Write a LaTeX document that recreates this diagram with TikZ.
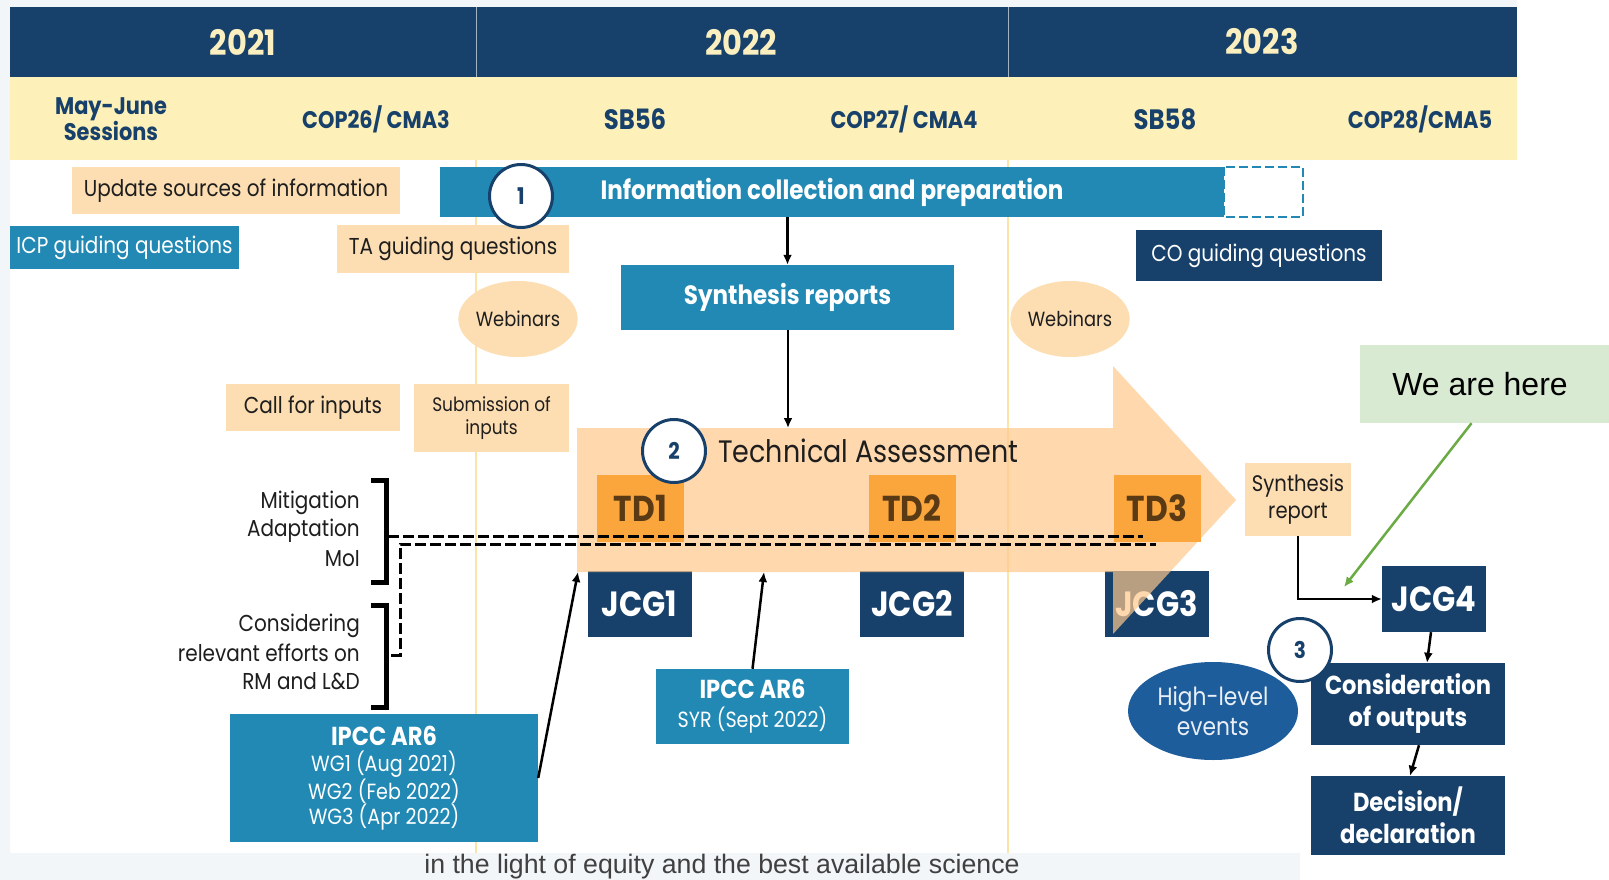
\documentclass[tikz,border=0pt]{standalone}
\usepackage{fontspec}
\setmainfont{Poppins}[FakeStretch=0.87]
\newfontfamily\arialfont{Liberation Sans}
\usetikzlibrary{arrows.meta,shapes.geometric}
\definecolor{navy}{HTML}{17416B}
\definecolor{ipcc}{HTML}{2189B3}
\definecolor{peach}{HTML}{FDDDB2}
\definecolor{band}{HTML}{FDF0B9}
\definecolor{cream}{HTML}{FBEFC0}
\definecolor{tdorange}{HTML}{FBA63C}
\definecolor{tdink}{HTML}{5A3A14}
\definecolor{sepline}{HTML}{FCE4A6}
\definecolor{hlblue}{HTML}{1E5D9B}
\definecolor{greenbg}{HTML}{D9EAD3}
\definecolor{greenarr}{HTML}{6AAB44}
\definecolor{tafill}{HTML}{FFC88C}
\definecolor{ink}{HTML}{1E1E1E}
\definecolor{tint}{HTML}{F3F6F9}

\begin{document}
\begin{tikzpicture}[x=1pt,y=-1pt,
        box/.style={rectangle, inner sep=0pt, align=center},
        peachbox/.style={box, fill=peach, text=ink},
        bluebox/.style={box, fill=ipcc, text=white},
        navybox/.style={box, fill=navy, text=white},
        num/.style={circle, draw=navy, line width=3pt, fill=white, text=navy,
                        inner sep=0pt, minimum size=63pt,
                        font=\bfseries\fontsize{23}{23}\selectfont},
        blob/.style={ellipse, inner sep=0pt, align=center},
        arr/.style={-{Latex[length=10pt,width=9pt]}, line width=2.5pt},
        dashline/.style={line width=3pt, dash pattern=on 11pt off 4pt},
        brk/.style={line width=5pt}]
    \useasboundingbox (0,0) rectangle (1609,880);
    \fill[white] (0,0) rectangle (1609,880);
    \fill[tint] (0,0) rectangle (10,880) (0,0) rectangle (1517,7)
        (0,853) rectangle (1300,880);

    \fill[navy] (10,7) rectangle (1517,77);
    \fill[band] (10,77) rectangle (1517,160);
    \draw[white!60!navy, line width=1pt] (476,7) -- (476,77) (1008,7) -- (1008,77);
    \draw[sepline, line width=2pt] (476,160) -- (476,853) (1008,160) -- (1008,853);

    \foreach \x/\yr in {243/2021,741/2022,1262/2023}
        \node[text=cream, font=\bfseries\fontsize{35}{35}\selectfont] (y\yr) at (\x,42) {\yr};
    \foreach \x/\n/\t in {111/may/{May-June\\Sessions},376/cop26/{COP26/ CMA3},
            904/cop27/{COP27/ CMA4},1420/cop28/{COP28/CMA5}}
        \node[align=center, text=navy, font=\bfseries\fontsize{24}{25}\selectfont]
            (\n) at (\x,119) {\t};
    \foreach \x/\n in {635/56,1165/58}
        \node[text=navy, font=\bfseries\fontsize{28}{28}\selectfont] (sb\n) at (\x,119) {SB\n};

    \node[peachbox, minimum width=328pt, minimum height=47pt,
            font=\fontsize{23}{23}\selectfont] (upd) at (236,190.5) {Update sources of information};
    \node[bluebox, minimum width=784pt, minimum height=50pt,
            font=\bfseries\fontsize{26.5}{26.5}\selectfont] (info) at (832,192) {Information collection and preparation};
    \draw[ipcc, line width=2.5pt, dash pattern=on 9pt off 4pt]
        (info.north east) rectangle ++(79,50);
    \node[bluebox, minimum width=229pt, minimum height=43pt,
            font=\fontsize{23}{23}\selectfont] (icp) at (124.5,247.5) {ICP guiding questions};
    \node[peachbox, minimum width=232pt, minimum height=48pt,
            font=\fontsize{23}{23}\selectfont] (ta) at (453,249) {TA guiding questions};
    \node[navybox, minimum width=246pt, minimum height=51pt,
            font=\fontsize{23}{23}\selectfont] (co) at (1259,255.5) {CO guiding questions};
    \node[bluebox, minimum width=333pt, minimum height=65pt,
            font=\bfseries\fontsize{26.5}{26.5}\selectfont] (syn) at (787.5,297.5) {Synthesis reports};
    \node[num] (c1) at (521,196) {1};
    \foreach \x/\n in {518/web1,1070/web2}
        \node[blob, fill=peach, text=ink, minimum width=116pt, minimum height=76pt,
                font=\fontsize{20.5}{20.5}\selectfont] (\n) at (\x,319) {Webinars};
    \node[peachbox, minimum width=174pt, minimum height=47pt,
            font=\fontsize{23}{23}\selectfont] (call) at (313,407.5) {Call for inputs};
    \node[peachbox, minimum width=155pt, minimum height=68pt,
            font=\fontsize{19.5}{23}\selectfont] (sub) at (491.5,418) {Submission of\\inputs};

    \foreach \x/\n in {639.5/1,912/2,1156.5/3}
        \node[navybox, minimum width=104pt, minimum height=66pt,
                font=\bfseries\fontsize{35}{35}\selectfont] (jcg\n) at (\x,604) {JCG\n};
    \fill[tafill, fill opacity=0.7] (577,428) -- (1113,428) -- (1113,366) -- (1236,500)
        -- (1113,634) -- (1113,572) -- (577,572) -- cycle;
    \foreach \x/\n in {640.5/1,912/2,1157/3}
        \node[box, fill=tdorange, text=tdink, minimum width=87pt, minimum height=67pt,
                font=\bfseries\fontsize{36}{36}\selectfont] (td\n) at (\x,508.5) {TD\n};
    \node[num] (c2) at (674,451) {2};
    \node[anchor=west, inner sep=0pt, text=ink, font=\fontsize{31}{31}\selectfont] (tatext) at (718,451) {Technical Assessment};
    \coordinate (tatop) at (788,428);
    \coordinate (tabl) at (578,572);
    \coordinate (tabot) at (764,572);

    \draw[brk] (371,480) -- (386,480) -- (386,582) -- (371,582)
        (371,605) -- (386,605) -- (386,707) -- (371,707);
    \foreach \y/\n/\t in {503/mit/Mitigation,531/ada/Adaptation,559/moi/MoI,
            626/cons/Considering,653/rel/{relevant efforts on\hspace{6pt}},681/rm/RM and L\&D}
        \node[anchor=east, inner sep=0pt, text=ink, font=\fontsize{23}{23}\selectfont] (\n) at (360,\y) {\t};
    \coordinate (d1) at (388,536);
    \coordinate (d1end) at (1143,536);
    \coordinate (d2) at (391,655);
    \coordinate (d2end) at (1156,544);
    \draw[dashline] (d1) -- (d1end);
    \draw[dashline] (d2) -- (400,655) -- (400,544) -- (d2end);

    \node[bluebox, minimum width=308pt, minimum height=128pt,
            font=\fontsize{22}{25.5}\selectfont] (ipcc1) at (384,778)
            {{\bfseries\fontsize{26}{26}\selectfont IPCC AR6}\\[1pt]WG1 (Aug 2021)\\WG2 (Feb 2022)\\WG3 (Apr 2022)};
    \node[bluebox, minimum width=193pt, minimum height=75pt,
            font=\fontsize{22}{29}\selectfont] (ipcc2) at (752.5,706.5)
            {{\bfseries\fontsize{26}{26}\selectfont IPCC AR6}\\SYR (Sept 2022)};

    \node[peachbox, minimum width=106pt, minimum height=73pt,
            font=\fontsize{22.5}{27}\selectfont] (synrep) at (1298,499.5) {Synthesis\\report};
    \node[navybox, minimum width=104pt, minimum height=66pt,
            font=\bfseries\fontsize{35}{35}\selectfont] (jcg4) at (1434,599) {JCG4};
    \node[blob, fill=hlblue, text=white!90!hlblue, minimum width=170pt, minimum height=98pt,
            font=\fontsize{25}{30}\selectfont] (hl) at (1213,711) {High-level\\events};
    \node[navybox, minimum width=194pt, minimum height=82pt,
            font=\bfseries\fontsize{26}{32}\selectfont] (consid) at (1408,704) {Consideration\\of outputs};
    \node[navybox, minimum width=194pt, minimum height=79pt,
            font=\bfseries\fontsize{26}{32}\selectfont] (dec) at (1408,815.5) {Decision/\\declaration};
    \node[num] (c3) at (1300,650) {3};
    \node[box, fill=greenbg, minimum width=249pt, minimum height=78pt,
            font=\arialfont\fontsize{32}{32}\selectfont] (here) at (1484.5,384) {We are here\hspace{9pt}};
    \coordinate (pin) at (1344,587);

    \draw[arr] (syn.north |- info.south) -- (syn.north);
    \draw[arr] (syn.south -| tatop) -- (tatop);
    \draw[arr] (ipcc1.east) -- (tabl);
    \draw[arr] (ipcc2.north) -- (tabot);
    \draw[arr] (synrep.south) |- (jcg4.west);
    \draw[arr] ([xshift=-3pt]jcg4.south) -- ([xshift=19pt]consid.north);
    \draw[arr] ([xshift=11pt]consid.south) -- ([xshift=2pt]dec.north);
    \draw[arr, greenarr] ([xshift=-13pt]here.south) -- (pin);

    \node[text=black!75, font=\arialfont\fontsize{26.7}{26.7}\selectfont] (note) at (722,867)
        {in the light of equity and the best available science};
\end{tikzpicture}
\end{document}
